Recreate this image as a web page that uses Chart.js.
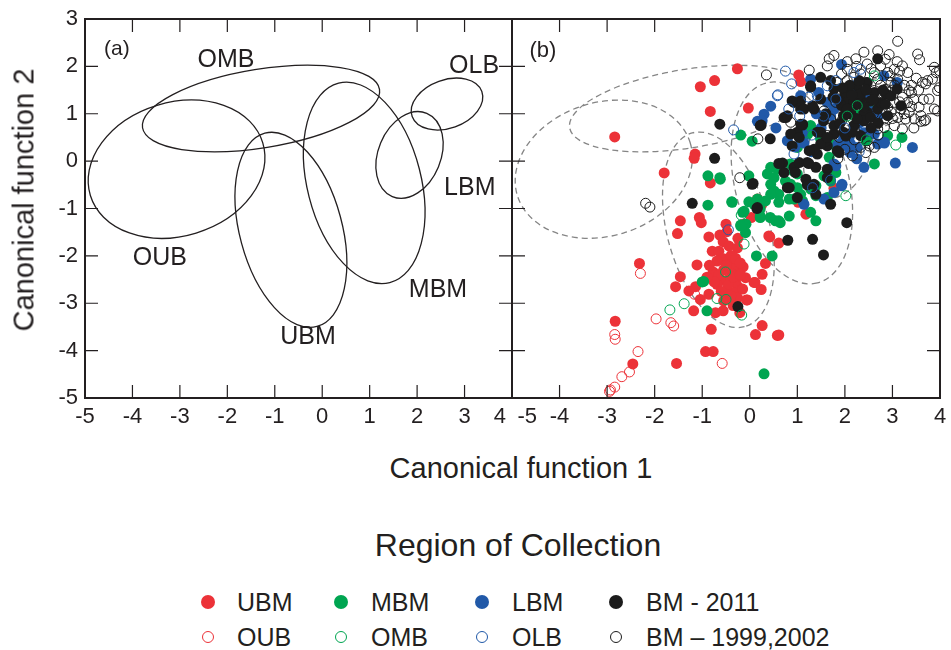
<!DOCTYPE html>
<html><head><meta charset="utf-8">
<script src="https://cdn.jsdelivr.net/npm/chart.js@4.4.0/dist/chart.umd.min.js"></script>
<style>
html,body{margin:0;padding:0;background:#fff;width:951px;height:650px;overflow:hidden;font-family:"Liberation Sans",Arial,Helvetica,sans-serif;color:#231f20}
canvas{position:absolute;top:0}
#ca{left:0}
#cb{left:500px}
.t{position:absolute;white-space:nowrap;line-height:1}
.mk{position:absolute;border-radius:50%;box-sizing:border-box}
</style>
</head><body>
<canvas id="ca" width="520" height="440"></canvas>
<canvas id="cb" width="451" height="440"></canvas>
<div class="t" id="ytitle" style="left:24px;top:200px;font-size:29px;transform:translate(-50%,-50%) rotate(-90deg)">Canonical function 2</div>
<div class="t" id="xtitle" style="left:521px;top:468px;font-size:29px;transform:translate(-50%,-50%)">Canonical function 1</div>
<div class="t" id="ltitle" style="left:518px;top:545px;font-size:32px;transform:translate(-50%,-50%)">Region of Collection</div>
<div id="legend"></div>
<script>
// ---------- data ----------
const xTicks = [-5,-4,-3,-2,-1,0,1,2,3,4];
const yTicks = [-5,-4,-3,-2,-1,0,1,2,3];

const groupNames  = ['UBM','MBM','LBM','BM - 2011','OUB','OMB','OLB','BM \u2013 1999,2002'];
const groupColors = ['#ec3238','#00a551','#2159a8','#1c1c1c','#ec3238','#00a551','#2159a8','#1c1c1c'];
const groupFilled = [true,true,true,true,false,false,false,false];

// ellipse parameters (centre, semi-axes, rotation in degrees)
const ellipseNames = ['OUB','OMB','UBM','MBM','LBM','OLB'];
const ellipseCx    = [-3.07,-1.29,-0.66, 0.885, 1.84, 2.63];
const ellipseCy    = [-0.17, 1.11,-1.45,-0.46, 0.13, 1.205];
const ellipseA     = [ 1.90, 2.53, 2.11, 2.17, 0.95, 0.78];
const ellipseB     = [ 1.41, 0.83, 1.08, 1.20, 0.66, 0.51];
const ellipseAngle = [ 17,   9.2, -74.9,-75.6, 67.5, 19.7];

// panel (a) group labels
const labelText = ['OMB','OLB','LBM','OUB','MBM','UBM'];
const labelX    = [-2.03, 3.20, 3.11,-3.42, 2.44,-0.30];
const labelY    = [ 2.135,2.01,-0.57,-2.05,-2.73,-3.72];

const ubm = [[-0.26,1.95],[-0.74,1.70],[-1.04,1.57],[-0.83,1.05],[-2.84,0.51],[-1.15,0.15],[-1.17,0.06],[-1.80,-0.25],[-0.83,-0.46],[-0.03,1.12],[1.03,1.82],[1.07,1.68],
[-1.46,-1.26],[-1.06,-1.19],[-1.02,-1.30],[-1.52,-1.53],[-0.86,-1.60],[-0.50,-1.33],[-0.63,-1.56],[-0.56,-1.70],[-0.25,-1.63],[-0.14,-1.33],[-0.79,-1.90],[-0.65,-1.90],[-0.44,-1.79],[-0.26,-1.83],[-0.55,-2.06],[-0.39,-1.99],[-0.69,-2.11],[-1.11,-2.19],[-0.77,-2.34],[-0.41,-2.18],[-0.30,-2.25],[-0.14,-2.23],[-0.37,-2.39],[-0.44,-2.49],[-0.62,-2.53],[-0.69,-2.60],[-0.30,-2.53],[-0.26,-2.64],[-0.09,-2.46],[0.09,-2.56],[0.26,-2.39],[-1.46,-2.44],[-1.56,-2.65],[-1.14,-2.65],[-1.28,-2.74],[-1.04,-2.92],[-0.86,-2.81],[-0.48,-2.71],[-0.34,-2.78],[-0.26,-2.88],[-0.48,-2.90],[-0.05,-2.93],[-1.18,-3.16],[-0.72,-3.20],[-0.56,-3.16],[-0.21,-3.20],[-0.81,-3.55],[0.26,-3.47],[0.12,-3.66],[0.58,-3.68],[-0.93,-4.02],[-0.77,-4.02],[-1.54,-4.27],[-2.32,-2.16],[-2.83,-3.38],[-2.46,-4.28],[0.33,-2.16],[0.42,-1.60],[0.03,-1.19],[0.61,-1.73],[0.11,-2.56],[0.24,-2.71],[-0.07,-2.93],[0.61,-3.67],
[-0.48,-1.49],[0.16,-0.80],[0.25,-0.92],[0.40,-1.58],[1.02,-0.87],[1.77,-0.57],[1.18,-1.12],
[-0.55,-2.30],[-0.45,-2.60],[-0.35,-2.45],[-0.60,-2.75],[-0.50,-2.20],[-0.20,-2.40],[-0.65,-2.40],[-0.40,-2.85],[-0.30,-2.05],[-0.75,-2.55],[-0.15,-2.70],[-0.55,-2.95],[-0.90,-2.45],[-0.35,-3.05],[-0.85,-2.20],[-0.20,-2.15]];

const mbm = [[-0.97,-2.54],[-0.90,-3.16],[0.30,-4.49],[-0.88,-0.93],[-0.19,0.55],[0.05,0.42],[-0.88,-0.31],[-0.62,-0.38],[-0.38,-0.86],[-0.02,-0.86],[0.16,-0.80],[-0.02,-0.31],[-0.12,-1.06],[-0.19,-1.35],[-0.09,-1.51],[0.22,-1.19],[0.43,-1.19],[0.61,-1.26],[0.83,-1.16],[0.14,-2.00],[0.47,-2.00],[1.39,-1.26],[-1.00,-2.55],
[1.28,0.68],[1.22,0.57],[1.49,0.50],[1.00,0.29],[1.70,0.36],[1.67,0.08],[1.84,0.22],[2.44,0.43],[2.90,0.54],[2.62,-0.06],[0.44,-0.13],[0.58,-0.17],[0.37,-0.27],[0.51,-0.35],[0.85,-0.06],[0.92,-0.21],[1.00,-0.27],[0.44,-0.49],[0.51,-0.63],[0.61,-0.70],[0.44,-0.70],[0.75,-0.42],[0.86,-0.49],[1.00,-0.56],[1.07,-0.70],[0.93,-0.80],[1.11,-0.84],[1.28,-0.59],[1.39,-0.52],[1.56,-0.31],[1.70,-0.42],[1.81,-0.24],[1.63,-0.77],[1.39,-0.73],[0.09,-0.91],[0.33,-0.84],[0.22,-1.01],[0.61,-0.87],[0.83,-0.80],[-0.37,-0.87],[-0.15,-1.08],[-0.08,-1.33],[-0.19,-1.37],[0.54,-1.26],[0.64,-1.30],[1.28,-1.08],[0.22,-1.16],[-0.63,-0.35],
[1.28,0.75],[1.49,0.47],[2.2,1.0],[2.5,1.2],[3.2,0.5]];

const lbm = [[1.93,2.04],[0.44,1.16],[0.30,0.99],[0.16,0.84],[1.28,1.73],[1.07,1.38],[0.79,0.43],[1.14,0.38],[3.42,0.29],[3.06,-0.04],[2.40,-0.13],[2.83,0.38],[2.62,0.57],[1.77,-0.06],[1.77,-0.66],[1.94,-0.49],[1.14,-0.91],[1.56,-0.80],[2.04,0.32],[2.11,0.18],[1.97,0.47],[1.63,1.24],[1.77,1.10],[2.12,1.38],[2.47,1.38],[2.82,1.80],[3.10,1.66],[2.19,1.59],[1.81,-0.10],[1.93,-0.52],[2.12,0.36],[2.09,0.50],[2.26,0.29],[0.26,0.85],[2.69,0.36],[2.83,0.40],
[1.5,0.7],[2.3,0.8],[2.0,1.2],[1.4,1.0],[2.4,0.6],[1.85,0.35],[2.25,0.05],[1.3,0.2],[0.95,0.3],[2.55,1.05],[1.7,0.95],[1.45,1.45],[2.7,0.95],[0.55,0.7],[1.1,0.6]];

const bm2011 = [[-0.63,0.78],[-0.74,0.06],[-1.21,-0.89],[0.07,-0.47],[0.15,-1.00],[0.43,0.47],[0.24,0.76],[0.76,0.92],[0.80,-1.67],[1.32,-1.65],[1.55,-1.98],[2.04,-1.30],[1.70,-0.91],[-0.25,-3.07],[0.69,-0.04],[0.72,-0.24],[0.93,-0.13],[0.83,-0.56],[1.00,-0.77],[1.04,-0.03],[1.21,-0.03],[1.39,-0.13],[1.18,-0.38],[1.35,-0.49],[1.42,0.15],[1.63,0.32],[1.88,0.18],[0.89,0.32],[1.00,0.61],[1.11,0.78],[1.49,0.61],[1.60,0.43],[1.77,0.57],[0.93,1.24],[1.07,1.10],[1.35,1.10],[1.49,1.31],[1.28,1.56],[1.49,1.77],[1.70,1.70],[1.77,1.52],[2.04,1.31],[2.19,1.17],[2.33,1.31],[2.12,1.03],[2.47,1.03],[1.97,0.96],[2.69,2.16],[2.86,1.42],[2.90,0.96],[2.19,0.75],[2.33,0.54],[1.77,0.75],[1.97,0.61],[2.62,1.45],[2.47,1.66],[2.26,1.59],[1.28,1.59],[1.07,1.27],[0.89,1.27],[1.14,1.10],[1.32,1.17],[0.72,0.92],[1.11,0.76],[2.19,1.24],[2.33,1.42],[2.54,1.27],[2.69,1.10],[2.40,1.03],[2.75,1.24],[2.97,1.38],[3.10,1.52],[3.18,1.17],[1.93,1.17],[2.12,0.99],[0.79,0.96],[1.07,0.78],[0.86,0.57],[1.04,0.50],[0.22,0.75],[1.42,0.61],[1.49,0.36],[1.63,0.50],[1.35,0.25],[1.25,0.22],[0.61,-0.05],[1.24,-0.05],[1.63,-0.17],[0.96,-0.24],[1.21,-0.50],[0.79,-0.56],[1.39,-0.70],[1.63,-0.35],[0.05,-0.49],[0.16,-0.98],[1.84,0.22],[2.02,0.53],[2.16,0.61],[2.40,0.85],[2.54,0.92],
[2.0,1.45],[2.15,1.4],[2.3,1.2],[2.05,1.1],[1.85,1.3],[2.6,1.3],[2.8,1.5],[2.45,1.5],[1.6,1.0],[1.9,0.8],[2.25,0.9],[2.7,0.8],[2.4,1.15],[1.75,1.35],[2.1,1.6],[2.85,1.2],[2.55,0.7],[1.55,0.85],[1.95,1.55],[2.3,1.7]];

const oub = [[-2.30,-2.37],[-2.84,-3.66],[-2.83,-3.76],[-2.35,-4.02],[-1.97,-3.33],[-1.66,-3.41],[-1.60,-3.48],[-2.53,-4.45],[-2.69,-4.55],[-2.84,-4.77],[-2.95,-4.86],[-0.58,-4.27],[-1.16,-2.81],[-2.93,-4.83]];

const omb = [[-0.18,-1.14],[-0.12,-1.75],[-0.51,-2.34],[-1.68,-3.14],[-1.38,-3.01],[-0.69,-2.90],[-0.50,-2.92],[-0.17,-3.25],[3.07,0.34],[2.02,-0.73],[2.26,1.17],[2.62,1.80],[2.45,0.45],[2.05,0.95]];

const olb = [[0.75,1.90],[0.88,1.63],[0.59,1.40],[0.82,1.10],[1.24,1.35],[1.42,1.38],[1.63,1.59],[1.81,1.70],[1.81,1.31],[2.19,1.87],[2.33,1.94],[0.58,1.38],[-0.34,0.66],[-0.45,-1.45],[0.93,0.15],[1.32,-0.56],[1.05,0.95],[1.55,0.95],[2.0,0.7],[1.3,0.55],[1.7,-0.4],[2.3,0.2]];

const bm9902 = [[-2.19,-0.89],[-2.10,-0.97],[0.35,1.82],[0.17,0.47],[-0.21,-0.35],[1.25,1.92],[3.11,2.53],[2.40,2.30],[2.69,2.33],[2.93,2.25],[3.53,2.26],[3.57,2.14],[1.67,2.16],[1.77,2.23],[1.63,2.01],[2.05,2.10],[2.23,2.16],[2.47,2.05],[2.75,2.01],[3.04,1.94],[3.21,2.01],[3.32,1.87],[2.90,1.87],[2.62,1.87],[2.33,1.84],[1.93,1.84],[2.05,1.94],[2.19,1.77],[1.84,1.66],[3.88,1.98],[3.99,1.91],[3.92,1.87],[3.63,1.66],[3.74,1.70],[3.84,1.73],[3.70,1.63],[3.95,1.49],[3.77,1.31],[3.56,1.14],[3.35,1.03],[3.60,0.96],[3.88,1.10],[3.46,0.89],[3.67,0.85],[3.35,1.49],[3.21,1.35],[3.04,1.24],[3.32,1.24],[3.18,1.10],[2.97,1.03],[3.11,0.92],[2.83,0.89],[2.69,0.96],[2.90,1.14],[3.28,0.89],[2.44,1.66],[2.69,1.73],[2.97,1.66],[3.11,1.73],[2.86,1.52],[2.62,1.49],[2.33,1.56],[2.47,1.38],[1.88,1.52],[1.81,1.24],[1.56,1.06],[1.70,0.89],[1.93,0.85],[2.16,0.89],[2.33,0.89],[2.54,0.82],[3.60,0.84],[3.70,0.87],[3.21,0.68],[3.04,0.75],[2.83,0.71],[2.69,0.68],[2.47,0.43],[2.33,0.29],[2.51,0.32],[2.62,0.29],[2.44,0.18],[2.16,0.11],[0.86,0.82],[1.63,0.54],[1.77,0.57],[1.88,0.50],[3.99,1.55],[3.95,1.06],[3.4,1.45],[3.5,1.75],[3.0,1.5],[2.8,1.3],[3.15,1.9],[2.55,1.15],[3.45,1.3],[3.25,1.6],
[2.95,1.80],[3.05,1.60],[3.40,1.60],[2.75,1.60],[3.15,1.25],[3.40,1.15],[2.60,1.00],[3.00,0.90],[3.25,1.00],[2.85,1.05],[2.40,0.70],[2.20,0.45],[2.00,0.25],[1.85,0.05],[2.70,0.55],[3.10,2.10],[2.85,2.15],[2.55,1.95],[3.55,1.50],[3.65,1.30],[3.45,0.70],[2.05,1.70],[2.25,2.00]];

const seriesData = [ubm, mbm, lbm, bm2011, oub, omb, olb, bm9902];
const seriesOrder = [7, 6, 5, 4, 2, 0, 1, 3];

// ---------- drawing helpers ----------
const INK = '#231f20';
const FONT = '"Liberation Sans", Arial, Helvetica, sans-serif';

const framePlugin = {
  id: 'frame',
  afterDraw(chart) {
    const {ctx, chartArea: a, scales} = chart;
    const xs = scales.x, ys = scales.y;
    ctx.save();
    ctx.strokeStyle = INK;
    ctx.lineWidth = 1.2;
    ctx.beginPath();
    xTicks.forEach(v => {
      const p = xs.getPixelForValue(v);
      ctx.moveTo(p, a.bottom); ctx.lineTo(p, a.bottom - 13);
      ctx.moveTo(p, a.top); ctx.lineTo(p, a.top + 13);
    });
    yTicks.forEach(v => {
      const p = ys.getPixelForValue(v);
      ctx.moveTo(a.left, p); ctx.lineTo(a.left + 13, p);
      ctx.moveTo(a.right, p); ctx.lineTo(a.right - 13, p);
    });
    ctx.stroke();
    ctx.lineWidth = 2;
    ctx.strokeRect(a.left, a.top, a.right - a.left, a.bottom - a.top);
    ctx.restore();
  }
};

function drawEllipses(chart, dashed) {
  const {ctx, chartArea: a, scales} = chart;
  const xs = scales.x, ys = scales.y;
  const kx = Math.abs(xs.getPixelForValue(1) - xs.getPixelForValue(0));
  const ky = Math.abs(ys.getPixelForValue(1) - ys.getPixelForValue(0));
  ctx.save();
  ctx.beginPath(); ctx.rect(a.left, a.top, a.right - a.left, a.bottom - a.top); ctx.clip();
  ctx.lineWidth = 1.3;
  ctx.strokeStyle = dashed ? '#858585' : INK;
  ctx.setLineDash(dashed ? [6, 4] : []);
  for (let i = 0; i < ellipseNames.length; i++) {
    ctx.beginPath();
    ctx.ellipse(xs.getPixelForValue(ellipseCx[i]), ys.getPixelForValue(ellipseCy[i]),
      ellipseA[i] * kx, ellipseB[i] * ky, -ellipseAngle[i] * Math.PI / 180, 0, 2 * Math.PI);
    ctx.stroke();
  }
  ctx.restore();
}

function drawText(chart, text, x, y, size) {
  const {ctx, scales} = chart;
  ctx.save();
  ctx.fillStyle = INK;
  ctx.font = size + 'px ' + FONT;
  ctx.textAlign = 'center';
  ctx.textBaseline = 'middle';
  ctx.fillText(text, scales.x.getPixelForValue(x), scales.y.getPixelForValue(y));
  ctx.restore();
}

const panelAPlugin = {
  id: 'panelA',
  afterDatasetsDraw(chart) {
    drawEllipses(chart, false);
    for (let i = 0; i < labelText.length; i++) drawText(chart, labelText[i], labelX[i], labelY[i], 25);
    drawText(chart, '(a)', -4.33, 2.37, 21);
  }
};
const panelBPlugin = {
  id: 'panelB',
  beforeDatasetsDraw(chart) { drawEllipses(chart, true); },
  afterDatasetsDraw(chart) { drawText(chart, '(b)', -4.35, 2.33, 22); }
};

const tickFont = {family: FONT, size: 22};

function xScale(cb) {
  return {
    type: 'linear', min: -5, max: 4,
    ticks: {stepSize: 1, font: tickFont, color: INK, padding: 6, maxRotation: 0, autoSkip: false, callback: cb},
    grid: {display: false, drawTicks: false},
    border: {display: false},
    afterFit: s => { s.height = 42; s.paddingLeft = 0; s.paddingRight = 0; }
  };
}

// ---------- panel (a) ----------
new Chart(document.getElementById('ca'), {
  type: 'scatter',
  data: {datasets: []},
  options: {
    responsive: false, animation: false, devicePixelRatio: 1, events: [],
    layout: {padding: {top: 19, right: 8, left: 0, bottom: 0}},
    plugins: {legend: {display: false}, tooltip: {enabled: false}},
    scales: {
      x: xScale(v => v === 4 ? '4    ' : String(v)),
      y: {
        type: 'linear', min: -5, max: 3,
        ticks: {stepSize: 1, font: tickFont, color: INK, padding: 7, align: 'inner', callback: v => String(v)},
        grid: {display: false, drawTicks: false},
        border: {display: false},
        afterFit: s => { s.width = 85; s.paddingTop = 0; s.paddingBottom = 0; }
      }
    }
  },
  plugins: [framePlugin, panelAPlugin]
});

// ---------- panel (b) ----------
const datasets = seriesData.map((pts, i) => ({
  label: groupNames[i],
  data: pts.map(p => ({x: p[0], y: p[1]})),
  order: seriesOrder[i],
  pointRadius: groupFilled[i] ? 5.5 : 5,
  pointBorderWidth: groupFilled[i] ? 0 : 1,
  pointBackgroundColor: groupFilled[i] ? groupColors[i] : 'rgba(0,0,0,0)',
  pointBorderColor: groupColors[i],
  showLine: false
}));

new Chart(document.getElementById('cb'), {
  type: 'scatter',
  data: {datasets},
  options: {
    responsive: false, animation: false, devicePixelRatio: 1, events: [],
    layout: {padding: {top: 19, right: 11, left: 12, bottom: 0}},
    plugins: {legend: {display: false}, tooltip: {enabled: false}},
    scales: {
      x: xScale(v => v === -5 ? '     -5' : String(v)),
      y: {type: 'linear', min: -5, max: 3, display: false, ticks: {stepSize: 1}}
    }
  },
  plugins: [framePlugin, panelBPlugin]
});

// ---------- legend ----------
const legendMarkerX = [208, 341, 482, 616];
const legendTextX = [237, 371, 512, 646];
const legendRowY = [602, 637];
const lg = document.getElementById('legend');
groupNames.forEach((name, i) => {
  const col = i % 4, row = Math.floor(i / 4);
  const mx = legendMarkerX[col], my = legendRowY[row];
  const m = document.createElement('div');
  m.className = 'mk';
  const d = groupFilled[i] ? 14 : 12;
  m.style.left = (mx - d / 2) + 'px';
  m.style.top = (my - d / 2) + 'px';
  m.style.width = d + 'px';
  m.style.height = d + 'px';
  if (groupFilled[i]) m.style.background = groupColors[i];
  else m.style.border = '1.2px solid ' + groupColors[i];
  lg.appendChild(m);
  const t = document.createElement('div');
  t.className = 't';
  t.textContent = name;
  t.style.fontSize = '25px';
  t.style.left = legendTextX[col] + 'px';
  t.style.top = my + 'px';
  t.style.transform = 'translateY(-50%)';
  lg.appendChild(t);
});
</script>
</body></html>
